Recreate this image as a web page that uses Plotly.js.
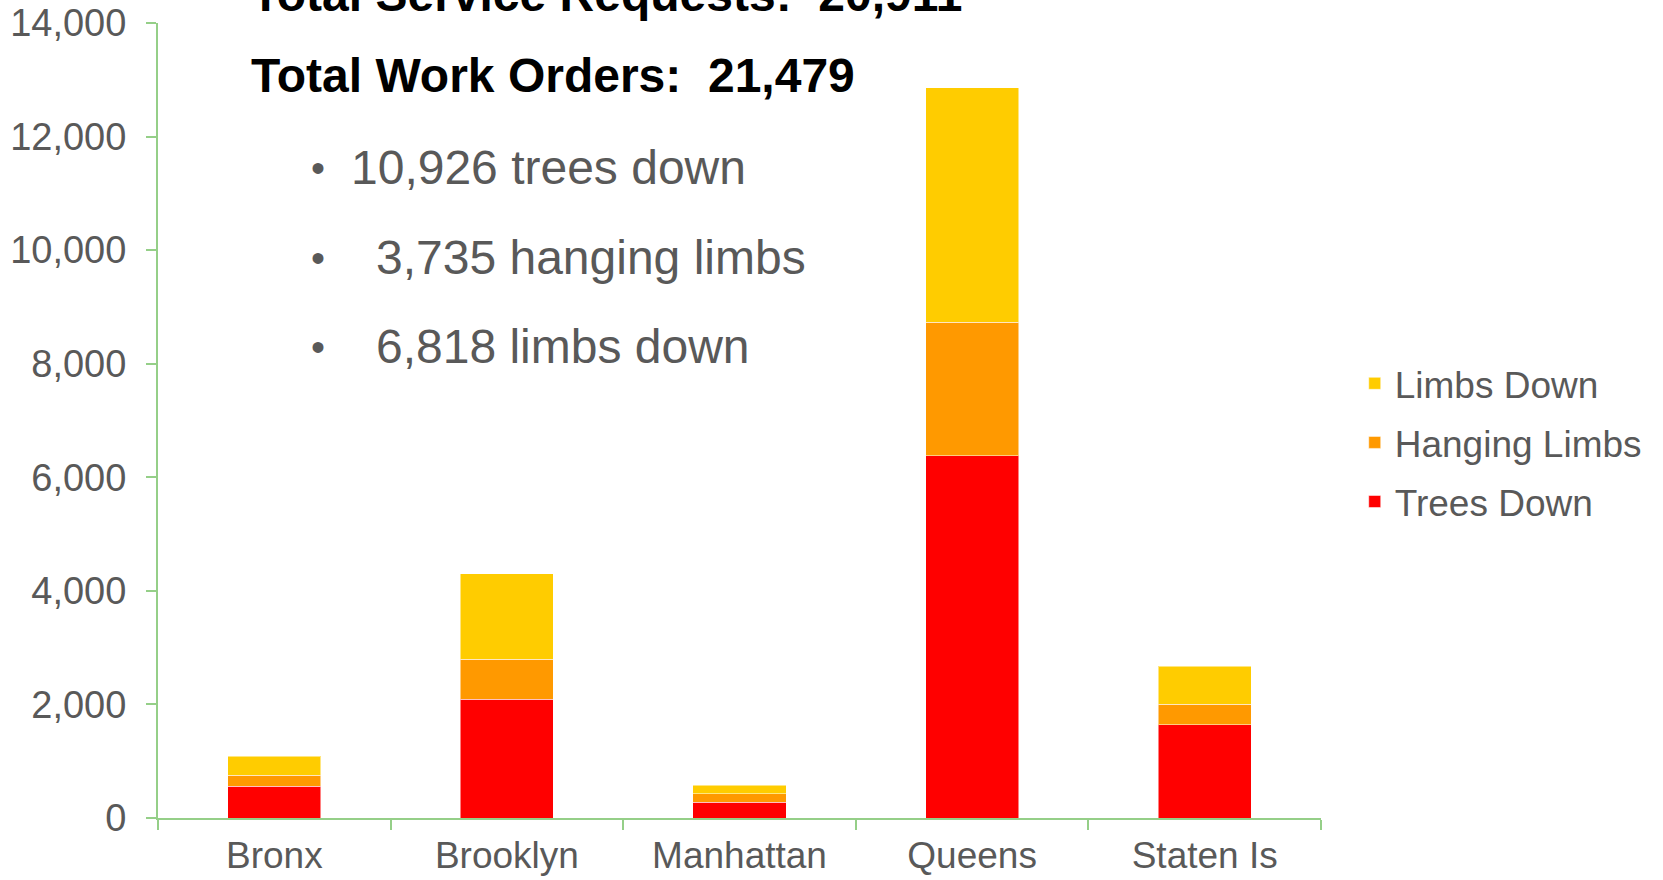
<!DOCTYPE html>
<html>
<head>
<meta charset="utf-8">
<script src="https://cdn.plot.ly/plotly-3.0.1.min.js"></script>
<style>
html,body{margin:0;padding:0;background:#fff;}
#chart{width:1663px;height:880px;}
</style>
</head>
<body>
<div id="chart"></div>
<script>
const boroughs = ["Bronx", "Brooklyn", "Manhattan", "Queens", "Staten Is"];
const treesDown = [560, 2090, 280, 6375, 1645];
const hangingLimbs = [190, 710, 150, 2355, 355];
const limbsDown = [335, 1500, 150, 4130, 675];
const seriesNames = ["Trees Down", "Hanging Limbs", "Limbs Down"];
const seriesColors = ["#FF0000", "#FF9900", "#FFCC00"];
const headerLines = ["Total Service Requests:\u00a0\u00a020,911", "Total Work Orders:\u00a0\u00a021,479"];
const bulletLines = ["10,926 trees down", "3,735 hanging limbs", "6,818 limbs down"];

const seriesValues = [treesDown, hangingLimbs, limbsDown];
const traces = seriesValues.map((vals, i) => ({
  type: "bar",
  name: seriesNames[i],
  x: boroughs,
  y: vals,
  legendgroup: "g" + i,
  legendrank: 3 - i,
  marker: {color: seriesColors[i], line: {color: "rgba(255,255,255,0.5)", width: 1}},
  hoverinfo: "x+y+name"
}));

const grey = "#595959";
const annotations = [];
const headerY = [1.036, 0.934];
headerLines.forEach((t, i) => annotations.push({
  xref: "paper", yref: "paper", x: 0.078, y: headerY[i], xanchor: "left", yanchor: "middle",
  text: "<b>" + t + "</b>", showarrow: false,
  font: {family: "Liberation Sans, Arial, sans-serif", size: 48, color: "#000000"}
}));
const bulletY = [0.818, 0.705, 0.593];
const bulletTextX = [0.1642, 0.1856, 0.1856];
bulletLines.forEach((t, i) => {
  annotations.push({
    xref: "paper", yref: "paper", x: 0.1375, y: bulletY[i], xanchor: "center", yanchor: "middle",
    text: "\u2022", showarrow: false,
    font: {family: "Liberation Sans, Arial, sans-serif", size: 40, color: grey}
  });
  annotations.push({
    xref: "paper", yref: "paper", x: bulletTextX[i], y: bulletY[i], xanchor: "left", yanchor: "middle",
    text: t, showarrow: false,
    font: {family: "Liberation Sans, Arial, sans-serif", size: 48, color: grey}
  });
});

const axisGreen = "#95CF88";
const layout = {
  width: 1663, height: 880,
  margin: {l: 158, r: 341.5, t: 23, b: 62, pad: 0},
  paper_bgcolor: "#ffffff", plot_bgcolor: "#ffffff",
  barmode: "stack",
  bargap: 0.6,
  showlegend: true,
  legend: {
    x: 1.029, y: 0.472, xanchor: "left", yanchor: "middle",
    traceorder: "grouped", tracegroupgap: 8,
    font: {family: "Liberation Sans, Arial, sans-serif", size: 37, color: grey},
    itemwidth: 30, bgcolor: "rgba(0,0,0,0)"
  },
  xaxis: {
    type: "category",
    showline: true, linecolor: axisGreen, linewidth: 2,
    ticks: "outside", tickson: "boundaries", ticklen: 10, tickcolor: axisGreen, tickwidth: 2,
    showgrid: false, zeroline: false,
    tickfont: {family: "Liberation Sans, Arial, sans-serif", size: 37, color: grey},
    ticklabelstandoff: 4,
    fixedrange: true
  },
  yaxis: {
    range: [0, 14000], dtick: 2000, tick0: 0, tickformat: ",d",
    showline: true, linecolor: axisGreen, linewidth: 2,
    ticks: "outside", ticklen: 10, tickcolor: axisGreen, tickwidth: 2,
    showgrid: false, zeroline: false,
    tickfont: {family: "Liberation Sans, Arial, sans-serif", size: 38, color: grey},
    ticklabelstandoff: 12,
    fixedrange: true
  },
  annotations: annotations
};

Plotly.newPlot("chart", traces, layout, {displayModeBar: false, staticPlot: true});
</script>
</body>
</html>
